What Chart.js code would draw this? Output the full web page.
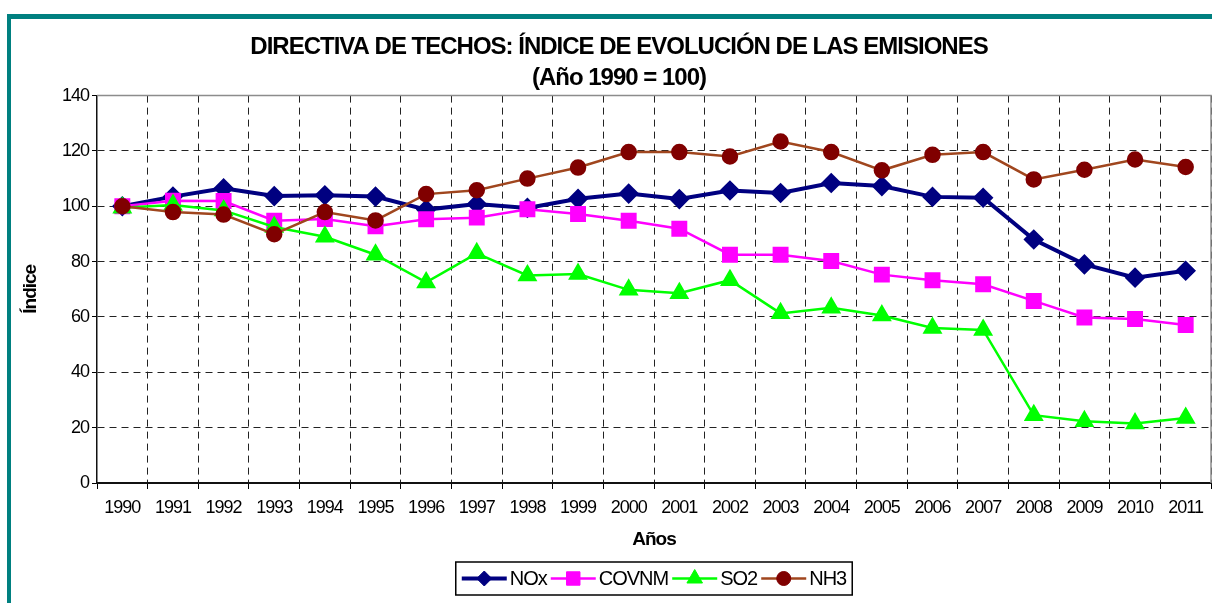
<!DOCTYPE html>
<html>
<head>
<meta charset="utf-8">
<script src="https://cdn.jsdelivr.net/npm/chart.js@4.4.0/dist/chart.umd.min.js"></script>
<style>
html, body { margin: 0; padding: 0; background: #fff; overflow: hidden; }
#frame { position: absolute; left: 7px; top: 14px; width: 1300px; height: 700px;
  border-top: 5px solid #008080; border-left: 4px solid #008080; }
#wrap { position: absolute; left: 0; top: 0; width: 1212px; height: 603px; }
</style>
</head>
<body>
<div id="frame"></div>
<div id="wrap"><canvas id="myChart" width="1212" height="603"></canvas></div>
<script>
// 年
const years = ['1990', '1991', '1992', '1993', '1994', '1995', '1996', '1997', '1998', '1999', '2000',
  '2001', '2002', '2003', '2004', '2005', '2006', '2007', '2008', '2009', '2010', '2011'];

// 各系列の値 (1990 = 100)
const nox = [100, 103.5, 106.5, 103.7, 104, 103.5, 98.8, 100.8, 99.4, 102.7, 104.6,
  102.6, 105.7, 104.8, 108.4, 107.3, 103.4, 103.1, 88, 79, 74.2, 76.7];
const covnm = [100, 102, 101.9, 94.8, 95.4, 92.8, 95.3, 95.9, 98.9, 97.2, 94.8,
  91.9, 82.5, 82.5, 80.2, 75.3, 73.3, 71.8, 65.8, 59.8, 59.3, 57.1];
const so2 = [99.5, 100.5, 98.5, 92.5, 89, 82.5, 72.5, 83, 75, 75.5, 69.8,
  68.6, 73.3, 61.3, 63.3, 60.5, 56, 55.3, 24.5, 22.3, 21.5, 23.5];
const nh3 = [100, 97.9, 97, 89.9, 97.9, 94.9, 104.4, 105.8, 110, 114, 119.6,
  119.6, 118, 123.4, 119.6, 113, 118.6, 119.6, 109.7, 113.2, 116.9, 114.2];

const seriesNames = ['NOx', 'COVNM', 'SO2', 'NH3'];
const yTicks = [0, 20, 40, 60, 80, 100, 120, 140];

Chart.defaults.font.family = '"Liberation Sans", Arial, sans-serif';
Chart.defaults.color = '#000';

// 文字を詰める
const squeezeText = {
  id: 'squeezeText',
  beforeDraw(chart) { chart.ctx.letterSpacing = '-1px'; }
};

// プロット枠 (上と右)
const plotFrame = {
  id: 'plotFrame',
  beforeDatasetsDraw(chart) {
    const { ctx, chartArea: a } = chart;
    ctx.save();
    ctx.strokeStyle = '#8c8c8c';
    ctx.lineWidth = 1.5;
    ctx.beginPath();
    ctx.moveTo(a.left, a.top);
    ctx.lineTo(a.right, a.top);
    ctx.lineTo(a.right, a.bottom);
    ctx.stroke();
    ctx.restore();
  }
};

// 枠付き凡例
const boxLegend = {
  id: 'boxLegend',
  afterDraw(chart) {
    const ctx = chart.ctx;
    const a = chart.chartArea;
    ctx.save();
    ctx.letterSpacing = '-1px';
    ctx.font = '20px "Liberation Sans", Arial, sans-serif';
    ctx.textBaseline = 'middle';
    const sample = 45, gap = 3, space = 4, pad = 6;
    const items = chart.data.datasets.map(ds => ({ ds, w: ctx.measureText(ds.label).width }));
    const total = pad * 2 + items.reduce((s, it) => s + sample + gap + it.w, 0) + space * (items.length - 1);
    let x = (a.left + a.right) / 2 - total / 2;
    const top = chart.scales.x.bottom + 4;
    const h = 33;
    const cy = top + h / 2;
    ctx.strokeStyle = '#000';
    ctx.lineWidth = 1.5;
    ctx.strokeRect(x, top, total, h);
    x += pad;
    items.forEach(it => {
      const ds = it.ds;
      ctx.strokeStyle = ds.borderColor;
      ctx.lineWidth = ds.borderWidth;
      ctx.beginPath();
      ctx.moveTo(x, cy);
      ctx.lineTo(x + sample, cy);
      ctx.stroke();
      ctx.fillStyle = ds.pointBackgroundColor;
      ctx.strokeStyle = ds.pointBorderColor;
      ctx.lineWidth = 1;
      Chart.helpers.drawPoint(ctx, { pointStyle: ds.pointStyle, radius: ds.pointRadius, rotation: 0, borderWidth: 1 },
        x + sample / 2, cy);
      ctx.fillStyle = '#000';
      ctx.fillText(ds.label, x + sample + gap, cy + 1);
      x += sample + gap + it.w + space;
    });
    ctx.restore();
  }
};

const ctx = document.getElementById('myChart').getContext('2d');
new Chart(ctx, {
  type: 'line',
  data: {
    labels: years,
    datasets: [
      { label: seriesNames[0], data: nox, borderColor: '#000080', borderWidth: 4,
        pointStyle: 'rectRot', pointRadius: 7.5, pointBackgroundColor: '#000080', pointBorderColor: '#000080', order: 4 },
      { label: seriesNames[1], data: covnm, borderColor: '#ff00ff', borderWidth: 2.5,
        pointStyle: 'rect', pointRadius: 9.5, pointBackgroundColor: '#ff00ff', pointBorderColor: '#ff00ff', order: 3 },
      { label: seriesNames[2], data: so2, borderColor: '#00ff00', borderWidth: 2.5,
        pointStyle: 'triangle', pointRadius: 9, pointBackgroundColor: '#00ff00', pointBorderColor: '#00ff00', order: 2 },
      { label: seriesNames[3], data: nh3, borderColor: '#a0461e', borderWidth: 2.5,
        pointStyle: 'circle', pointRadius: 7, pointBackgroundColor: '#800000', pointBorderColor: '#800000', order: 1 }
    ]
  },
  options: {
    responsive: false,
    animation: false,
    layout: { autoPadding: false, padding: { left: 27, right: 1, top: 0, bottom: 45 } },
    plugins: {
      legend: { display: false },
      tooltip: { enabled: false },
      title: {
        display: true,
        text: 'DIRECTIVA DE TECHOS: ÍNDICE DE EVOLUCIÓN DE LAS EMISIONES',
        font: { size: 24, weight: 'bold' },
        color: '#000',
        padding: { top: 33, bottom: 1 }
      },
      subtitle: {
        display: true,
        text: '(Año 1990 = 100)',
        font: { size: 24, weight: 'bold' },
        color: '#000',
        padding: { top: 1, bottom: 3 }
      }
    },
    scales: {
      x: {
        offset: true,
        grid: {
          offset: true,
          color: c => (c.index === 0 || c.index === years.length) ? 'rgba(0,0,0,0)' : '#222',
          lineWidth: 1,
          tickLength: 6,
          tickColor: '#000'
        },
        border: { color: '#111', width: 2, dash: [7, 5] },
        ticks: { font: { size: 18 }, padding: 8, maxRotation: 0, autoSkip: false },
        title: { display: true, text: 'Años', font: { size: 19, weight: 'bold' }, padding: { top: 0, bottom: 7 } },
        afterFit(scale) {
          scale.height = 75;
          scale.paddingLeft = 0;
          scale.paddingRight = 0;
        }
      },
      y: {
        min: 0,
        max: 140,
        afterBuildTicks(scale) { scale.ticks = yTicks.map(v => ({ value: v })); },
        grid: {
          color: c => (c.tick && (c.tick.value === 140 || c.tick.value === 0)) ? 'rgba(0,0,0,0)' : '#222',
          lineWidth: 1,
          tickLength: 5,
          tickColor: '#000'
        },
        border: { color: '#111', width: 1.5, dash: [7, 5] },
        ticks: { font: { size: 18 }, padding: 3 },
        title: { display: true, text: 'Índice', font: { size: 19, weight: 'bold' }, padding: { top: -8, bottom: 0 } },
        afterFit(scale) {
          scale.width = 70;
          scale.paddingTop = 0;
          scale.paddingBottom = 0;
        }
      }
    }
  },
  plugins: [squeezeText, plotFrame, boxLegend]
});
</script>
</body>
</html>
